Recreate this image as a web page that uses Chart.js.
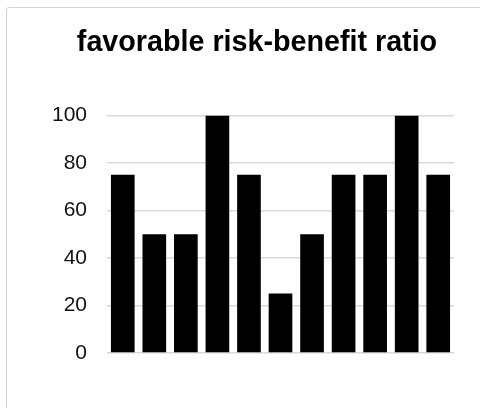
<!DOCTYPE html>
<html>
<head>
<meta charset="utf-8">
<script src="https://cdn.jsdelivr.net/npm/chart.js@4"></script>
<style>
    html, body { margin: 0; padding: 0; background: #fff; overflow: hidden; }
    #frame {
        position: absolute; left: 6px; top: 7px; width: 520px; height: 440px;
        border: 1px solid #d4d4d4; border-radius: 3px;
    }
    #wrap { position: absolute; left: 0; top: 0; width: 480px; height: 408px; }
</style>
</head>
<body>
<div id="frame"></div>
<div id="wrap"><canvas id="chart" width="480" height="408"></canvas></div>
<script>
const categories = ['1', '2', '3', '4', '5', '6', '7', '8', '9', '10', '11'];
const values = [75, 50, 50, 100, 75, 25, 50, 75, 75, 100, 75];
const yTicks = [0, 20, 40, 60, 80, 100];

document.addEventListener('DOMContentLoaded', () => {
    const ctx = document.getElementById('chart').getContext('2d');
    new Chart(ctx, {
        type: 'bar',
        data: {
            labels: categories,
            datasets: [{
                label: 'favorable risk-benefit ratio',
                data: values,
                backgroundColor: '#000000',
                borderWidth: 0,
                categoryPercentage: 1,
                barPercentage: 0.75
            }]
        },
        options: {
            responsive: false,
            animation: false,
            layout: { padding: { left: 50, right: 16, bottom: 55 } },
            plugins: {
                legend: { display: false },
                tooltip: { enabled: false },
                title: {
                    display: true,
                    text: 'favorable risk-benefit ratio',
                    color: '#000000',
                    font: { family: '"Liberation Sans", Arial, sans-serif', size: 28.7, weight: 'bold' },
                    padding: { top: 26, bottom: 55 }
                }
            },
            scales: {
                x: { display: false },
                y: {
                    min: 0,
                    max: 100,
                    afterBuildTicks: axis => { axis.ticks = yTicks.map(v => ({ value: v })); },
                    afterFit: axis => { axis.width = 57; },
                    border: { display: false },
                    grid: { color: '#d9d9d9', lineWidth: 1.5, drawTicks: false },
                    ticks: {
                        padding: 20,
                        color: '#111111',
                        font: { family: '"Liberation Sans", Arial, sans-serif', size: 21 }
                    }
                },
                // empty right-side spacer so the title centres where the reference has it
                y2: {
                    position: 'right',
                    display: true,
                    afterFit: axis => { axis.width = 10; },
                    border: { display: false },
                    grid: { display: false },
                    ticks: { display: false }
                }
            }
        }
    });
});
</script>
</body>
</html>
